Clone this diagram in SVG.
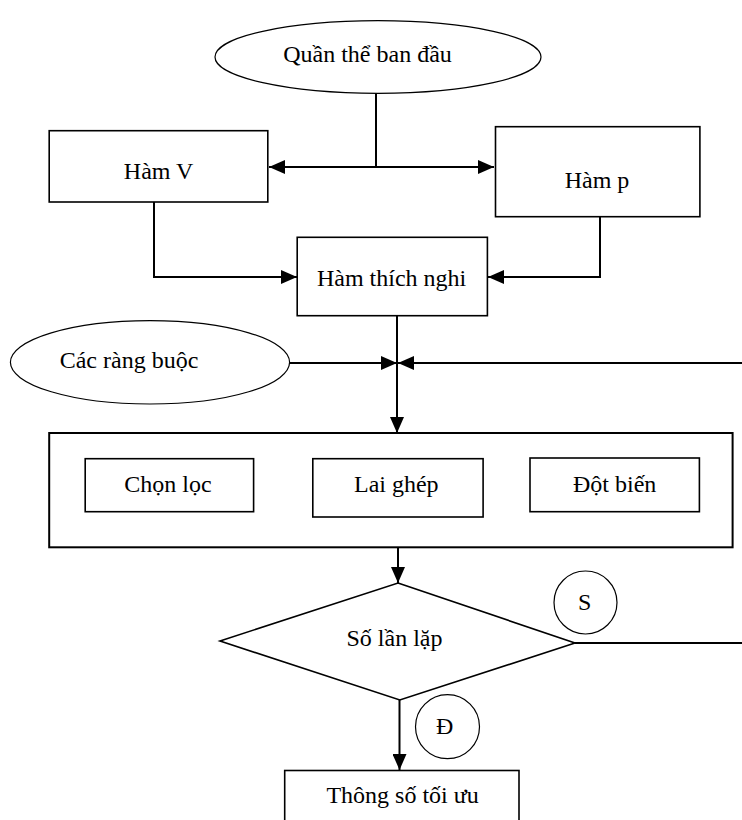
<svg xmlns="http://www.w3.org/2000/svg" width="742" height="820" viewBox="0 0 742 820">
<defs>
<marker id="arr" viewBox="0 0 16 14" refX="16" refY="7" markerWidth="16" markerHeight="14" markerUnits="userSpaceOnUse" orient="auto">
<path d="M0,0 L16,7 L0,14 z" fill="#000"/>
</marker>
<style>
.box{fill:#fff;stroke:#000;stroke-width:1.6}
.ell{fill:#fff;stroke:#000;stroke-width:1.2}
.con{fill:none;stroke:#000;stroke-width:2}
.arr{marker-end:url(#arr)}
text{font-family:"Liberation Serif","Times New Roman",serif;font-size:24px;fill:#000;text-anchor:middle}
</style>
</defs>
<rect width="742" height="820" fill="#fff"/>
<g id="connectors">
<path class="con" d="M376,93 V167"/>
<path class="con arr" d="M376,167 H269"/>
<path class="con arr" d="M376,167 H494"/>
<path class="con arr" d="M154,202 V277 H297"/>
<path class="con arr" d="M600,217 V277 H488"/>
<path class="con arr" d="M397,316 V433"/>
<path class="con arr" d="M290,363 H397"/>
<path class="con arr" d="M742,363 H398"/>
<path class="con arr" d="M398,547 V583"/>
<path class="con" d="M575,643 H742"/>
<path class="con arr" d="M399.5,700 V770"/>
</g>
<g id="quan-the">
<ellipse class="ell" cx="378" cy="57" rx="163" ry="36.3"/>
<text x="367.5" y="62">Quần thể ban đầu</text>
</g>
<g id="ham-v">
<rect class="box" x="49.2" y="130.7" width="218.6" height="71.3"/>
<text x="158.6" y="179">Hàm V</text>
</g>
<g id="ham-p">
<rect class="box" x="495.5" y="126.7" width="204.4" height="90"/>
<text x="597" y="188">Hàm p</text>
</g>
<g id="ham-thich-nghi">
<rect class="box" x="297.2" y="237.3" width="190.2" height="78.4"/>
<text x="391.6" y="286">Hàm thích nghi</text>
</g>
<g id="rang-buoc">
<ellipse class="ell" cx="150" cy="362.3" rx="139.6" ry="41.7"/>
<text x="129" y="368">Các ràng buộc</text>
</g>
<g id="khoi-di-truyen">
<rect class="box" x="49.2" y="433" width="683.4" height="114.3" style="stroke-width:2"/>
</g>
<g id="chon-loc">
<rect class="box" x="85.2" y="458.7" width="168.4" height="53"/>
<text x="168" y="492">Chọn lọc</text>
</g>
<g id="lai-ghep">
<rect class="box" x="312.8" y="458.7" width="170.3" height="58.3"/>
<text x="396.3" y="492">Lai ghép</text>
</g>
<g id="dot-bien">
<rect class="box" x="530" y="458" width="169.4" height="53.7"/>
<text x="614.7" y="492">Đột biến</text>
</g>
<g id="so-lan-lap">
<polygon class="box" points="398,583 575,643 399.8,700 220,641"/>
<text x="394.5" y="646">Số lần lặp</text>
</g>
<g id="nhan-s">
<circle class="ell" cx="585.5" cy="602.5" r="31.5"/>
<text x="584.7" y="610">S</text>
</g>
<g id="nhan-d">
<circle class="ell" cx="447.5" cy="726.7" r="32"/>
<text x="444.7" y="734">Đ</text>
</g>
<g id="thong-so">
<rect class="box" x="284.7" y="770.5" width="234.3" height="60"/>
<text x="402.6" y="803">Thông số tối ưu</text>
</g>
</svg>
